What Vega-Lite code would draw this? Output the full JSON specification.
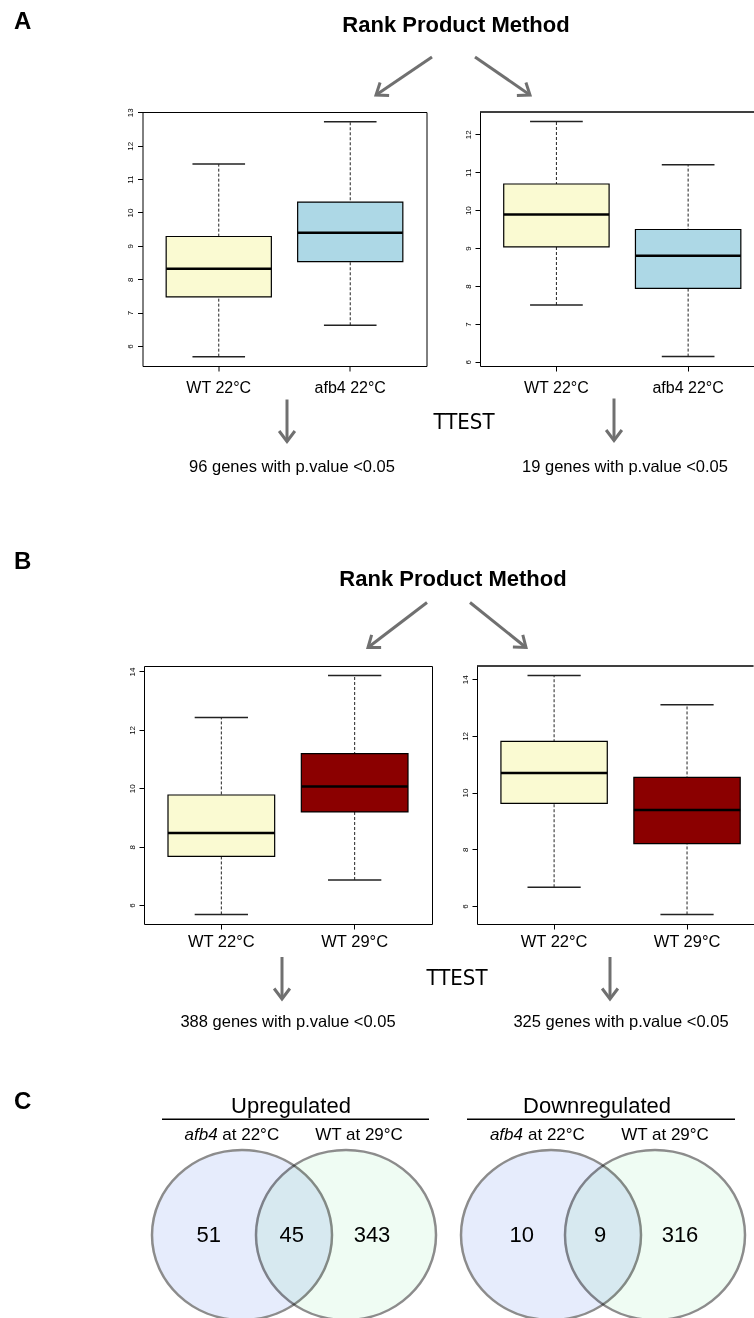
{
  "$schema": "https://vega.github.io/schema/vega-lite/v6.json",
  "padding": 0,
  "background": "white",
  "spacing": 0,
  "bounds": "full",
  "resolve": {"scale": {"fill": "independent"}},
  "config": {
    "view": {"stroke": null},
    "font": "Liberation Sans",
    "axis": {"labelFont": "Liberation Sans", "labelColor": "#000", "tickColor": "#000", "domainColor": "#000", "grid": false}
  },
  "datasets": {
    "header": [
      {"kind": "text", "role": "panel", "x": 14, "y": 29, "label": "A"},
      {"kind": "text", "role": "method", "x": 456, "y": 32, "label": "Rank Product Method"},
      {"kind": "arrow", "dir": "dl", "x": 432, "y": 57, "x2": 376, "y2": 95},
      {"kind": "arrow", "dir": "dr", "x": 475, "y": 57, "x2": 530, "y2": 95}
    ],
    "mid": [
      {"kind": "text", "role": "ttest", "x": 464, "y": 428, "label": "TTEST"},
      {"kind": "arrow", "dir": "d", "x": 287, "y": 399, "x2": 287, "y2": 441},
      {"kind": "arrow", "dir": "d", "x": 614, "y": 398, "x2": 614, "y2": 440},
      {"kind": "text", "role": "genes", "x": 292, "y": 471, "label": "96 genes with p.value <0.05"},
      {"kind": "text", "role": "genes", "x": 625, "y": 471, "label": "19 genes with p.value <0.05"},
      {"kind": "text", "role": "panel", "x": 14, "y": 568.5, "label": "B"},
      {"kind": "text", "role": "method", "x": 453, "y": 585, "label": "Rank Product Method"},
      {"kind": "arrow", "dir": "dl", "x": 427, "y": 602, "x2": 368, "y2": 647},
      {"kind": "arrow", "dir": "dr", "x": 470, "y": 602, "x2": 526, "y2": 647}
    ],
    "bottom": [
      {"kind": "text", "role": "ttest", "x": 457, "y": 983, "label": "TTEST"},
      {"kind": "arrow", "dir": "d", "x": 282, "y": 955, "x2": 282, "y2": 997},
      {"kind": "arrow", "dir": "d", "x": 610, "y": 955, "x2": 610, "y2": 997},
      {"kind": "text", "role": "genes", "x": 288, "y": 1025, "label": "388 genes with p.value <0.05"},
      {"kind": "text", "role": "genes", "x": 621, "y": 1025, "label": "325 genes with p.value <0.05"},
      {"kind": "text", "role": "panel", "x": 14, "y": 1107, "label": "C"},
      {"kind": "text", "role": "venntitle", "x": 291, "y": 1111, "label": "Upregulated"},
      {"kind": "text", "role": "venntitle", "x": 597, "y": 1111, "label": "Downregulated"},
      {"kind": "line", "x": 162, "y": 1117.3, "x2": 429, "y2": 1117.3},
      {"kind": "line", "x": 467, "y": 1117.3, "x2": 735, "y2": 1117.3},
      {"kind": "text", "role": "italic", "x": 217.6, "y": 1138, "label": "afb4"},
      {"kind": "text", "role": "rest", "x": 222.3, "y": 1138, "label": "at 22°C"},
      {"kind": "text", "role": "setlabel", "x": 359, "y": 1138, "label": "WT at 29°C"},
      {"kind": "text", "role": "italic", "x": 523, "y": 1138, "label": "afb4"},
      {"kind": "text", "role": "rest", "x": 528, "y": 1138, "label": "at 22°C"},
      {"kind": "text", "role": "setlabel", "x": 665, "y": 1138, "label": "WT at 29°C"},
      {"kind": "set", "set": "afb4", "x": 242, "y": 1233},
      {"kind": "set", "set": "WT", "x": 346, "y": 1233},
      {"kind": "set", "set": "afb4", "x": 551, "y": 1233},
      {"kind": "set", "set": "WT", "x": 655, "y": 1233},
      {"kind": "text", "role": "count", "x": 208.7, "y": 1240, "label": "51"},
      {"kind": "text", "role": "count", "x": 291.7, "y": 1240, "label": "45"},
      {"kind": "text", "role": "count", "x": 372, "y": 1240, "label": "343"},
      {"kind": "text", "role": "count", "x": 521.7, "y": 1240, "label": "10"},
      {"kind": "text", "role": "count", "x": 600, "y": 1240, "label": "9"},
      {"kind": "text", "role": "count", "x": 680, "y": 1240, "label": "316"}
    ],
    "boxA1": [
      {"group": "WT 22°C", "lower": 5.68, "q1": 7.47, "median": 8.31, "q3": 9.28, "upper": 11.45},
      {"group": "afb4 22°C", "lower": 6.62, "q1": 8.53, "median": 9.39, "q3": 10.31, "upper": 12.72}
    ],
    "boxA2": [
      {"group": "WT 22°C", "lower": 7.5, "q1": 9.03, "median": 9.885, "q3": 10.69, "upper": 12.34},
      {"group": "afb4 22°C", "lower": 6.14, "q1": 7.94, "median": 8.8, "q3": 9.49, "upper": 11.2}
    ],
    "boxB1": [
      {"group": "WT 22°C", "lower": 5.68, "q1": 7.67, "median": 8.47, "q3": 9.77, "upper": 12.42},
      {"group": "WT 29°C", "lower": 6.86, "q1": 9.19, "median": 10.06, "q3": 11.19, "upper": 13.86}
    ],
    "boxB2": [
      {"group": "WT 22°C", "lower": 6.66, "q1": 9.62, "median": 10.69, "q3": 11.81, "upper": 14.13},
      {"group": "WT 29°C", "lower": 5.7, "q1": 8.2, "median": 9.39, "q3": 10.54, "upper": 13.1}
    ]
  },
  "vconcat": [
    {
      "width": 754, "height": 107,
      "data": {"name": "header"},
      "encoding": {
        "x": {"field": "x", "type": "quantitative", "scale": {"domain": [0, 754], "nice": false, "zero": false}, "axis": null},
        "y": {"field": "y", "type": "quantitative", "scale": {"domain": [0, 107], "reverse": true, "nice": false, "zero": false}, "axis": null}
      },
      "layer": [
        {"transform": [{"filter": "datum.kind === 'arrow'"}], "mark": {"type": "rule", "stroke": "#707070", "strokeWidth": 3}, "encoding": {"x2": {"field": "x2"}, "y2": {"field": "y2"}}},
        {"transform": [{"filter": "datum.dir === 'dl'"}], "mark": {"type": "point", "shape": "M-1,-0.75L0,0L-1,0.75", "filled": false, "stroke": "#707070", "strokeWidth": 3, "size": 441, "opacity": 1, "angle": 145},
         "encoding": {"x": {"field": "x2", "type": "quantitative", "scale": {"domain": [0, 754], "nice": false, "zero": false}, "axis": null}, "y": {"field": "y2", "type": "quantitative", "scale": {"domain": [0, 107], "reverse": true, "nice": false, "zero": false}, "axis": null}}},
        {"transform": [{"filter": "datum.dir === 'dr'"}], "mark": {"type": "point", "shape": "M-1,-0.75L0,0L-1,0.75", "filled": false, "stroke": "#707070", "strokeWidth": 3, "size": 441, "opacity": 1, "angle": 35},
         "encoding": {"x": {"field": "x2", "type": "quantitative", "scale": {"domain": [0, 754], "nice": false, "zero": false}, "axis": null}, "y": {"field": "y2", "type": "quantitative", "scale": {"domain": [0, 107], "reverse": true, "nice": false, "zero": false}, "axis": null}}},
        {"transform": [{"filter": "datum.role === 'panel'"}], "mark": {"type": "text", "fontWeight": "bold", "fontSize": 24, "align": "left", "baseline": "alphabetic", "fill": "#000"}, "encoding": {"text": {"field": "label"}}},
        {"transform": [{"filter": "datum.role === 'method'"}], "mark": {"type": "text", "fontWeight": "bold", "fontSize": 22, "align": "center", "baseline": "alphabetic", "fill": "#000"}, "encoding": {"text": {"field": "label"}}}
      ]
    },
    {
      "hconcat": [
        {"width": 88.5, "height": 254, "data": {"values": [{}]}, "mark": {"type": "text"}, "encoding": {"text": {"value": ""}}},
        {
          "width": 284, "height": 254,
          "view": {"stroke": "#000", "strokeWidth": 1},
          "data": {"name": "boxA1"},
          "encoding": {
            "x": {"field": "group", "type": "nominal", "sort": ["WT 22°C", "afb4 22°C"], "scale": {"type": "band", "paddingInner": 0.2, "paddingOuter": 0.18}, "axis": {"title": null, "labelAngle": 0, "domain": false, "tickSize": 5, "labelFontSize": 16, "labelPadding": 8.5}}
          },
          "layer": [
            {"mark": {"type": "rule", "strokeDash": [3, 2], "stroke": "#222", "strokeWidth": 1},
             "encoding": {"y": {"field": "lower", "type": "quantitative", "title": null, "scale": {"domain": [5.4, 13.01], "nice": false, "zero": false}, "axis": {"values": [6, 7, 8, 9, 10, 11, 12, 13], "tickCount": 8, "labelOverlap": false, "labelAngle": 270, "labelAlign": "center", "labelBaseline": "bottom", "labelFontSize": 8, "labelPadding": 3, "tickSize": 5, "domain": false}}, "y2": {"field": "upper"}}},
            {"mark": {"type": "tick", "thickness": 1.5, "size": 52.6, "color": "#222", "opacity": 1}, "encoding": {"y": {"field": "lower", "type": "quantitative", "title": null, "scale": {"domain": [5.4, 13.01], "nice": false, "zero": false}, "axis": {"values": [6, 7, 8, 9, 10, 11, 12, 13], "tickCount": 8, "labelOverlap": false, "labelAngle": 270, "labelAlign": "center", "labelBaseline": "bottom", "labelFontSize": 8, "labelPadding": 3, "tickSize": 5, "domain": false}}}},
            {"mark": {"type": "tick", "thickness": 1.5, "size": 52.6, "color": "#222", "opacity": 1}, "encoding": {"y": {"field": "upper", "type": "quantitative", "title": null, "scale": {"domain": [5.4, 13.01], "nice": false, "zero": false}, "axis": {"values": [6, 7, 8, 9, 10, 11, 12, 13], "tickCount": 8, "labelOverlap": false, "labelAngle": 270, "labelAlign": "center", "labelBaseline": "bottom", "labelFontSize": 8, "labelPadding": 3, "tickSize": 5, "domain": false}}}},
            {"mark": {"type": "bar", "stroke": "#000", "strokeWidth": 1.2},
             "encoding": {"y": {"field": "q1", "type": "quantitative", "title": null, "scale": {"domain": [5.4, 13.01], "nice": false, "zero": false}, "axis": {"values": [6, 7, 8, 9, 10, 11, 12, 13], "tickCount": 8, "labelOverlap": false, "labelAngle": 270, "labelAlign": "center", "labelBaseline": "bottom", "labelFontSize": 8, "labelPadding": 3, "tickSize": 5, "domain": false}}, "y2": {"field": "q3"},
               "fill": {"field": "group", "type": "nominal", "scale": {"domain": ["WT 22°C", "afb4 22°C"], "range": ["#fafad2", "#add8e6"]}, "legend": null}}},
            {"mark": {"type": "tick", "thickness": 2.5, "size": 105, "color": "#000", "opacity": 1}, "encoding": {"y": {"field": "median", "type": "quantitative", "title": null, "scale": {"domain": [5.4, 13.01], "nice": false, "zero": false}, "axis": {"values": [6, 7, 8, 9, 10, 11, 12, 13], "tickCount": 8, "labelOverlap": false, "labelAngle": 270, "labelAlign": "center", "labelBaseline": "bottom", "labelFontSize": 8, "labelPadding": 3, "tickSize": 5, "domain": false}}}}
          ]
        },
        {
          "width": 274, "height": 254,
          "data": {"name": "boxA2"},
          "layer": [
            {"mark": {"type": "rule", "strokeDash": [3, 2], "stroke": "#222", "strokeWidth": 1},
             "encoding": {
               "x": {"field": "group", "type": "nominal", "sort": ["WT 22°C", "afb4 22°C"], "scale": {"type": "band", "paddingInner": 0.2, "paddingOuter": 0.14, "align": 0.643}, "axis": {"title": null, "labelAngle": 0, "domain": true, "domainWidth": 1, "tickSize": 5, "labelFontSize": 16, "labelPadding": 8.5}},
               "y": {"field": "lower", "type": "quantitative", "title": null, "scale": {"domain": [5.892, 12.588], "nice": false, "zero": false}, "axis": {"values": [6, 7, 8, 9, 10, 11, 12], "tickCount": 7, "labelOverlap": false, "labelAngle": 270, "labelAlign": "center", "labelBaseline": "bottom", "labelFontSize": 8, "labelPadding": 3, "tickSize": 5, "domain": true, "domainWidth": 1}}, "y2": {"field": "upper"}}},
            {"mark": {"type": "tick", "thickness": 1.5, "size": 52.7, "color": "#222", "opacity": 1},
             "encoding": {
               "x": {"field": "group", "type": "nominal", "sort": ["WT 22°C", "afb4 22°C"], "scale": {"type": "band", "paddingInner": 0.2, "paddingOuter": 0.14, "align": 0.643}, "axis": {"title": null, "labelAngle": 0, "domain": true, "domainWidth": 1, "tickSize": 5, "labelFontSize": 16, "labelPadding": 8.5}},
               "y": {"field": "lower", "type": "quantitative", "title": null, "scale": {"domain": [5.892, 12.588], "nice": false, "zero": false}, "axis": {"values": [6, 7, 8, 9, 10, 11, 12], "tickCount": 7, "labelOverlap": false, "labelAngle": 270, "labelAlign": "center", "labelBaseline": "bottom", "labelFontSize": 8, "labelPadding": 3, "tickSize": 5, "domain": true, "domainWidth": 1}}}},
            {"mark": {"type": "tick", "thickness": 1.5, "size": 52.7, "color": "#222", "opacity": 1},
             "encoding": {
               "x": {"field": "group", "type": "nominal", "sort": ["WT 22°C", "afb4 22°C"], "scale": {"type": "band", "paddingInner": 0.2, "paddingOuter": 0.14, "align": 0.643}, "axis": {"title": null, "labelAngle": 0, "domain": true, "domainWidth": 1, "tickSize": 5, "labelFontSize": 16, "labelPadding": 8.5}},
               "y": {"field": "upper", "type": "quantitative", "title": null, "scale": {"domain": [5.892, 12.588], "nice": false, "zero": false}, "axis": {"values": [6, 7, 8, 9, 10, 11, 12], "tickCount": 7, "labelOverlap": false, "labelAngle": 270, "labelAlign": "center", "labelBaseline": "bottom", "labelFontSize": 8, "labelPadding": 3, "tickSize": 5, "domain": true, "domainWidth": 1}}}},
            {"mark": {"type": "bar", "stroke": "#000", "strokeWidth": 1.2},
             "encoding": {
               "x": {"field": "group", "type": "nominal", "sort": ["WT 22°C", "afb4 22°C"], "scale": {"type": "band", "paddingInner": 0.2, "paddingOuter": 0.14, "align": 0.643}, "axis": {"title": null, "labelAngle": 0, "domain": true, "domainWidth": 1, "tickSize": 5, "labelFontSize": 16, "labelPadding": 8.5}},
               "y": {"field": "q1", "type": "quantitative", "title": null, "scale": {"domain": [5.892, 12.588], "nice": false, "zero": false}, "axis": {"values": [6, 7, 8, 9, 10, 11, 12], "tickCount": 7, "labelOverlap": false, "labelAngle": 270, "labelAlign": "center", "labelBaseline": "bottom", "labelFontSize": 8, "labelPadding": 3, "tickSize": 5, "domain": true, "domainWidth": 1}}, "y2": {"field": "q3"},
               "fill": {"field": "group", "type": "nominal", "scale": {"domain": ["WT 22°C", "afb4 22°C"], "range": ["#fafad2", "#add8e6"]}, "legend": null}}},
            {"mark": {"type": "tick", "thickness": 2.5, "size": 105.4, "color": "#000", "opacity": 1},
             "encoding": {
               "x": {"field": "group", "type": "nominal", "sort": ["WT 22°C", "afb4 22°C"], "scale": {"type": "band", "paddingInner": 0.2, "paddingOuter": 0.14, "align": 0.643}, "axis": {"title": null, "labelAngle": 0, "domain": true, "domainWidth": 1, "tickSize": 5, "labelFontSize": 16, "labelPadding": 8.5}},
               "y": {"field": "median", "type": "quantitative", "title": null, "scale": {"domain": [5.892, 12.588], "nice": false, "zero": false}, "axis": {"values": [6, 7, 8, 9, 10, 11, 12], "tickCount": 7, "labelOverlap": false, "labelAngle": 270, "labelAlign": "center", "labelBaseline": "bottom", "labelFontSize": 8, "labelPadding": 3, "tickSize": 5, "domain": true, "domainWidth": 1}}}},
            {"mark": {"type": "rule", "stroke": "#000", "strokeWidth": 1},
             "encoding": {"y": {"datum": 12.588, "type": "quantitative", "title": null, "scale": {"domain": [5.892, 12.588], "nice": false, "zero": false}, "axis": {"values": [6, 7, 8, 9, 10, 11, 12], "tickCount": 7, "labelOverlap": false, "labelAngle": 270, "labelAlign": "center", "labelBaseline": "bottom", "labelFontSize": 8, "labelPadding": 3, "tickSize": 5, "domain": true, "domainWidth": 1}}}}
          ]
        }
      ],
      "spacing": 53.5,
      "bounds": "flush",
      "resolve": {"scale": {"fill": "independent"}}
    },
    {
      "width": 754, "height": 268.5,
      "data": {"name": "mid"},
      "encoding": {
        "x": {"field": "x", "type": "quantitative", "scale": {"domain": [0, 754], "nice": false, "zero": false}, "axis": null},
        "y": {"field": "y", "type": "quantitative", "scale": {"domain": [395.5, 664], "reverse": true, "nice": false, "zero": false}, "axis": null}
      },
      "layer": [
        {"transform": [{"filter": "datum.kind === 'arrow'"}], "mark": {"type": "rule", "stroke": "#707070", "strokeWidth": 3}, "encoding": {"x2": {"field": "x2"}, "y2": {"field": "y2"}}},
        {"transform": [{"filter": "datum.dir === 'dl'"}], "mark": {"type": "point", "shape": "M-1,-0.75L0,0L-1,0.75", "filled": false, "stroke": "#707070", "strokeWidth": 3, "size": 441, "opacity": 1, "angle": 143},
         "encoding": {"x": {"field": "x2", "type": "quantitative", "scale": {"domain": [0, 754], "nice": false, "zero": false}, "axis": null}, "y": {"field": "y2", "type": "quantitative", "scale": {"domain": [395.5, 664], "reverse": true, "nice": false, "zero": false}, "axis": null}}},
        {"transform": [{"filter": "datum.dir === 'dr'"}], "mark": {"type": "point", "shape": "M-1,-0.75L0,0L-1,0.75", "filled": false, "stroke": "#707070", "strokeWidth": 3, "size": 441, "opacity": 1, "angle": 39},
         "encoding": {"x": {"field": "x2", "type": "quantitative", "scale": {"domain": [0, 754], "nice": false, "zero": false}, "axis": null}, "y": {"field": "y2", "type": "quantitative", "scale": {"domain": [395.5, 664], "reverse": true, "nice": false, "zero": false}, "axis": null}}},
        {"transform": [{"filter": "datum.dir === 'd'"}], "mark": {"type": "point", "shape": "M-1,-0.75L0,0L-1,0.75", "filled": false, "stroke": "#707070", "strokeWidth": 3, "size": 441, "opacity": 1, "angle": 90},
         "encoding": {"x": {"field": "x2", "type": "quantitative", "scale": {"domain": [0, 754], "nice": false, "zero": false}, "axis": null}, "y": {"field": "y2", "type": "quantitative", "scale": {"domain": [395.5, 664], "reverse": true, "nice": false, "zero": false}, "axis": null}}},
        {"transform": [{"filter": "datum.role === 'panel'"}], "mark": {"type": "text", "fontWeight": "bold", "fontSize": 24, "align": "left", "baseline": "alphabetic", "fill": "#000"}, "encoding": {"text": {"field": "label"}}},
        {"transform": [{"filter": "datum.role === 'method'"}], "mark": {"type": "text", "fontWeight": "bold", "fontSize": 22, "align": "center", "baseline": "alphabetic", "fill": "#000"}, "encoding": {"text": {"field": "label"}}},
        {"transform": [{"filter": "datum.role === 'ttest'"}], "mark": {"type": "text", "font": "Liberation Sans Narrow, DejaVu Sans Condensed, Liberation Sans", "fontSize": 22, "align": "center", "baseline": "alphabetic", "fill": "#000"}, "encoding": {"text": {"field": "label"}}},
        {"transform": [{"filter": "datum.role === 'genes'"}], "mark": {"type": "text", "fontSize": 16.5, "align": "center", "baseline": "alphabetic", "fill": "#000"}, "encoding": {"text": {"field": "label"}}}
      ]
    },
    {
      "hconcat": [
        {"width": 98.5, "height": 258, "data": {"values": [{}]}, "mark": {"type": "text"}, "encoding": {"text": {"value": ""}}},
        {
          "width": 288, "height": 258,
          "view": {"stroke": "#000", "strokeWidth": 1},
          "data": {"name": "boxB1"},
          "encoding": {"x": {"field": "group", "type": "nominal", "sort": ["WT 22°C", "WT 29°C"], "scale": {"type": "band", "paddingInner": 0.2, "paddingOuter": 0.18}, "axis": {"title": null, "labelAngle": 0, "domain": false, "tickSize": 5, "labelFontSize": 16.5, "labelPadding": 4.5}}},
          "layer": [
            {"mark": {"type": "rule", "strokeDash": [3, 2], "stroke": "#222", "strokeWidth": 1},
             "encoding": {"y": {"field": "lower", "type": "quantitative", "title": null, "scale": {"domain": [5.353, 14.187], "nice": false, "zero": false}, "axis": {"values": [6, 8, 10, 12, 14], "labelOverlap": false, "labelAngle": 270, "labelAlign": "center", "labelBaseline": "bottom", "labelFontSize": 8, "labelPadding": 3, "tickSize": 5, "domain": false}}, "y2": {"field": "upper"}}},
            {"mark": {"type": "tick", "thickness": 1.5, "size": 53.3, "color": "#222", "opacity": 1}, "encoding": {"y": {"field": "lower", "type": "quantitative", "title": null, "scale": {"domain": [5.353, 14.187], "nice": false, "zero": false}}}},
            {"mark": {"type": "tick", "thickness": 1.5, "size": 53.3, "color": "#222", "opacity": 1}, "encoding": {"y": {"field": "upper", "type": "quantitative", "title": null, "scale": {"domain": [5.353, 14.187], "nice": false, "zero": false}}}},
            {"mark": {"type": "bar", "stroke": "#000", "strokeWidth": 1.2},
             "encoding": {"y": {"field": "q1", "type": "quantitative", "title": null, "scale": {"domain": [5.353, 14.187], "nice": false, "zero": false}}, "y2": {"field": "q3"},
               "fill": {"field": "group", "type": "nominal", "scale": {"domain": ["WT 22°C", "WT 29°C"], "range": ["#fafad2", "#8b0000"]}, "legend": null}}},
            {"mark": {"type": "tick", "thickness": 2.5, "size": 106.7, "color": "#000", "opacity": 1}, "encoding": {"y": {"field": "median", "type": "quantitative", "title": null, "scale": {"domain": [5.353, 14.187], "nice": false, "zero": false}}}}
          ]
        },
        {
          "width": 276.5, "height": 258,
          "data": {"name": "boxB2"},
          "layer": [
            {"mark": {"type": "rule", "strokeDash": [3, 2], "stroke": "#222", "strokeWidth": 1},
             "encoding": {
               "x": {"field": "group", "type": "nominal", "sort": ["WT 22°C", "WT 29°C"], "scale": {"type": "band", "paddingInner": 0.2, "paddingOuter": 0.14, "align": 0.643}, "axis": {"title": null, "labelAngle": 0, "domain": true, "domainWidth": 1, "tickSize": 5, "labelFontSize": 16.5, "labelPadding": 4.5}},
               "y": {"field": "lower", "type": "quantitative", "title": null, "scale": {"domain": [5.363, 14.467], "nice": false, "zero": false}, "axis": {"values": [6, 8, 10, 12, 14], "labelOverlap": false, "labelAngle": 270, "labelAlign": "center", "labelBaseline": "bottom", "labelFontSize": 8, "labelPadding": 3, "tickSize": 5, "domain": true, "domainWidth": 1}}, "y2": {"field": "upper"}}},
            {"mark": {"type": "tick", "thickness": 1.5, "size": 53.2, "color": "#222", "opacity": 1},
             "encoding": {
               "x": {"field": "group", "type": "nominal", "sort": ["WT 22°C", "WT 29°C"], "scale": {"type": "band", "paddingInner": 0.2, "paddingOuter": 0.14, "align": 0.643}, "axis": {"title": null, "labelAngle": 0, "domain": true, "domainWidth": 1, "tickSize": 5, "labelFontSize": 16.5, "labelPadding": 4.5}},
               "y": {"field": "lower", "type": "quantitative", "title": null, "scale": {"domain": [5.363, 14.467], "nice": false, "zero": false}, "axis": {"values": [6, 8, 10, 12, 14], "labelOverlap": false, "labelAngle": 270, "labelAlign": "center", "labelBaseline": "bottom", "labelFontSize": 8, "labelPadding": 3, "tickSize": 5, "domain": true, "domainWidth": 1}}}},
            {"mark": {"type": "tick", "thickness": 1.5, "size": 53.2, "color": "#222", "opacity": 1},
             "encoding": {
               "x": {"field": "group", "type": "nominal", "sort": ["WT 22°C", "WT 29°C"], "scale": {"type": "band", "paddingInner": 0.2, "paddingOuter": 0.14, "align": 0.643}, "axis": {"title": null, "labelAngle": 0, "domain": true, "domainWidth": 1, "tickSize": 5, "labelFontSize": 16.5, "labelPadding": 4.5}},
               "y": {"field": "upper", "type": "quantitative", "title": null, "scale": {"domain": [5.363, 14.467], "nice": false, "zero": false}, "axis": {"values": [6, 8, 10, 12, 14], "labelOverlap": false, "labelAngle": 270, "labelAlign": "center", "labelBaseline": "bottom", "labelFontSize": 8, "labelPadding": 3, "tickSize": 5, "domain": true, "domainWidth": 1}}}},
            {"mark": {"type": "bar", "stroke": "#000", "strokeWidth": 1.2},
             "encoding": {
               "x": {"field": "group", "type": "nominal", "sort": ["WT 22°C", "WT 29°C"], "scale": {"type": "band", "paddingInner": 0.2, "paddingOuter": 0.14, "align": 0.643}, "axis": {"title": null, "labelAngle": 0, "domain": true, "domainWidth": 1, "tickSize": 5, "labelFontSize": 16.5, "labelPadding": 4.5}},
               "y": {"field": "q1", "type": "quantitative", "title": null, "scale": {"domain": [5.363, 14.467], "nice": false, "zero": false}, "axis": {"values": [6, 8, 10, 12, 14], "labelOverlap": false, "labelAngle": 270, "labelAlign": "center", "labelBaseline": "bottom", "labelFontSize": 8, "labelPadding": 3, "tickSize": 5, "domain": true, "domainWidth": 1}}, "y2": {"field": "q3"},
               "fill": {"field": "group", "type": "nominal", "scale": {"domain": ["WT 22°C", "WT 29°C"], "range": ["#fafad2", "#8b0000"]}, "legend": null}}},
            {"mark": {"type": "tick", "thickness": 2.5, "size": 106.3, "color": "#000", "opacity": 1},
             "encoding": {
               "x": {"field": "group", "type": "nominal", "sort": ["WT 22°C", "WT 29°C"], "scale": {"type": "band", "paddingInner": 0.2, "paddingOuter": 0.14, "align": 0.643}, "axis": {"title": null, "labelAngle": 0, "domain": true, "domainWidth": 1, "tickSize": 5, "labelFontSize": 16.5, "labelPadding": 4.5}},
               "y": {"field": "median", "type": "quantitative", "title": null, "scale": {"domain": [5.363, 14.467], "nice": false, "zero": false}, "axis": {"values": [6, 8, 10, 12, 14], "labelOverlap": false, "labelAngle": 270, "labelAlign": "center", "labelBaseline": "bottom", "labelFontSize": 8, "labelPadding": 3, "tickSize": 5, "domain": true, "domainWidth": 1}}}},
            {"mark": {"type": "rule", "stroke": "#000", "strokeWidth": 1},
             "encoding": {"y": {"datum": 14.467, "type": "quantitative", "title": null, "scale": {"domain": [5.363, 14.467], "nice": false, "zero": false}, "axis": {"values": [6, 8, 10, 12, 14], "labelOverlap": false, "labelAngle": 270, "labelAlign": "center", "labelBaseline": "bottom", "labelFontSize": 8, "labelPadding": 3, "tickSize": 5, "domain": true, "domainWidth": 1}}}}
          ]
        }
      ],
      "spacing": 45,
      "bounds": "flush",
      "resolve": {"scale": {"fill": "independent"}}
    },
    {
      "width": 754, "height": 369,
      "data": {"name": "bottom"},
      "encoding": {
        "x": {"field": "x", "type": "quantitative", "scale": {"domain": [0, 754], "nice": false, "zero": false}, "axis": null},
        "y": {"field": "y", "type": "quantitative", "scale": {"domain": [949, 1318], "reverse": true, "nice": false, "zero": false}, "axis": null}
      },
      "layer": [
        {"transform": [{"filter": "datum.kind === 'set'"}], "mark": {"type": "point", "shape": "M-1,0A1,0.944,0,1,1,1,0A1,0.944,0,1,1,-1,0Z", "filled": true, "size": 32400, "opacity": 1, "stroke": "#8c8c8c", "strokeWidth": 2.5, "blend": "multiply", "clip": true},
         "encoding": {"fill": {"field": "set", "type": "nominal", "scale": {"domain": ["afb4", "WT"], "range": ["#e6ecfc", "#effcf3"]}, "legend": null}}},
        {"transform": [{"filter": "datum.kind === 'line'"}], "mark": {"type": "rule", "stroke": "#000", "strokeWidth": 1.5}, "encoding": {"x2": {"field": "x2"}, "y2": {"field": "y2"}}},
        {"transform": [{"filter": "datum.kind === 'arrow'"}], "mark": {"type": "rule", "stroke": "#707070", "strokeWidth": 3}, "encoding": {"x2": {"field": "x2"}, "y2": {"field": "y2"}}},
        {"transform": [{"filter": "datum.dir === 'd'"}], "mark": {"type": "point", "shape": "M-1,-0.75L0,0L-1,0.75", "filled": false, "stroke": "#707070", "strokeWidth": 3, "size": 441, "opacity": 1, "angle": 90},
         "encoding": {"x": {"field": "x2", "type": "quantitative", "scale": {"domain": [0, 754], "nice": false, "zero": false}, "axis": null}, "y": {"field": "y2", "type": "quantitative", "scale": {"domain": [949, 1318], "reverse": true, "nice": false, "zero": false}, "axis": null}}},
        {"transform": [{"filter": "datum.role === 'panel'"}], "mark": {"type": "text", "fontWeight": "bold", "fontSize": 24, "align": "left", "baseline": "alphabetic", "fill": "#000"}, "encoding": {"text": {"field": "label"}}},
        {"transform": [{"filter": "datum.role === 'ttest'"}], "mark": {"type": "text", "font": "Liberation Sans Narrow, DejaVu Sans Condensed, Liberation Sans", "fontSize": 22, "align": "center", "baseline": "alphabetic", "fill": "#000"}, "encoding": {"text": {"field": "label"}}},
        {"transform": [{"filter": "datum.role === 'genes'"}], "mark": {"type": "text", "fontSize": 16.5, "align": "center", "baseline": "alphabetic", "fill": "#000"}, "encoding": {"text": {"field": "label"}}},
        {"transform": [{"filter": "datum.role === 'venntitle'"}], "mark": {"type": "text", "fontSize": 22, "align": "center", "baseline": "alphabetic", "fill": "#000"}, "encoding": {"text": {"field": "label"}}},
        {"transform": [{"filter": "datum.role === 'italic'"}], "mark": {"type": "text", "fontSize": 17, "fontStyle": "italic", "align": "right", "baseline": "alphabetic", "fill": "#000"}, "encoding": {"text": {"field": "label"}}},
        {"transform": [{"filter": "datum.role === 'rest'"}], "mark": {"type": "text", "fontSize": 17, "align": "left", "baseline": "alphabetic", "fill": "#000"}, "encoding": {"text": {"field": "label"}}},
        {"transform": [{"filter": "datum.role === 'setlabel'"}], "mark": {"type": "text", "fontSize": 17, "align": "center", "baseline": "alphabetic", "fill": "#000"}, "encoding": {"text": {"field": "label"}}},
        {"transform": [{"filter": "datum.role === 'count'"}], "mark": {"type": "text", "fontSize": 22, "align": "center", "baseline": "alphabetic", "fill": "#000"}, "encoding": {"text": {"field": "label"}}}
      ]
    }
  ]
}
